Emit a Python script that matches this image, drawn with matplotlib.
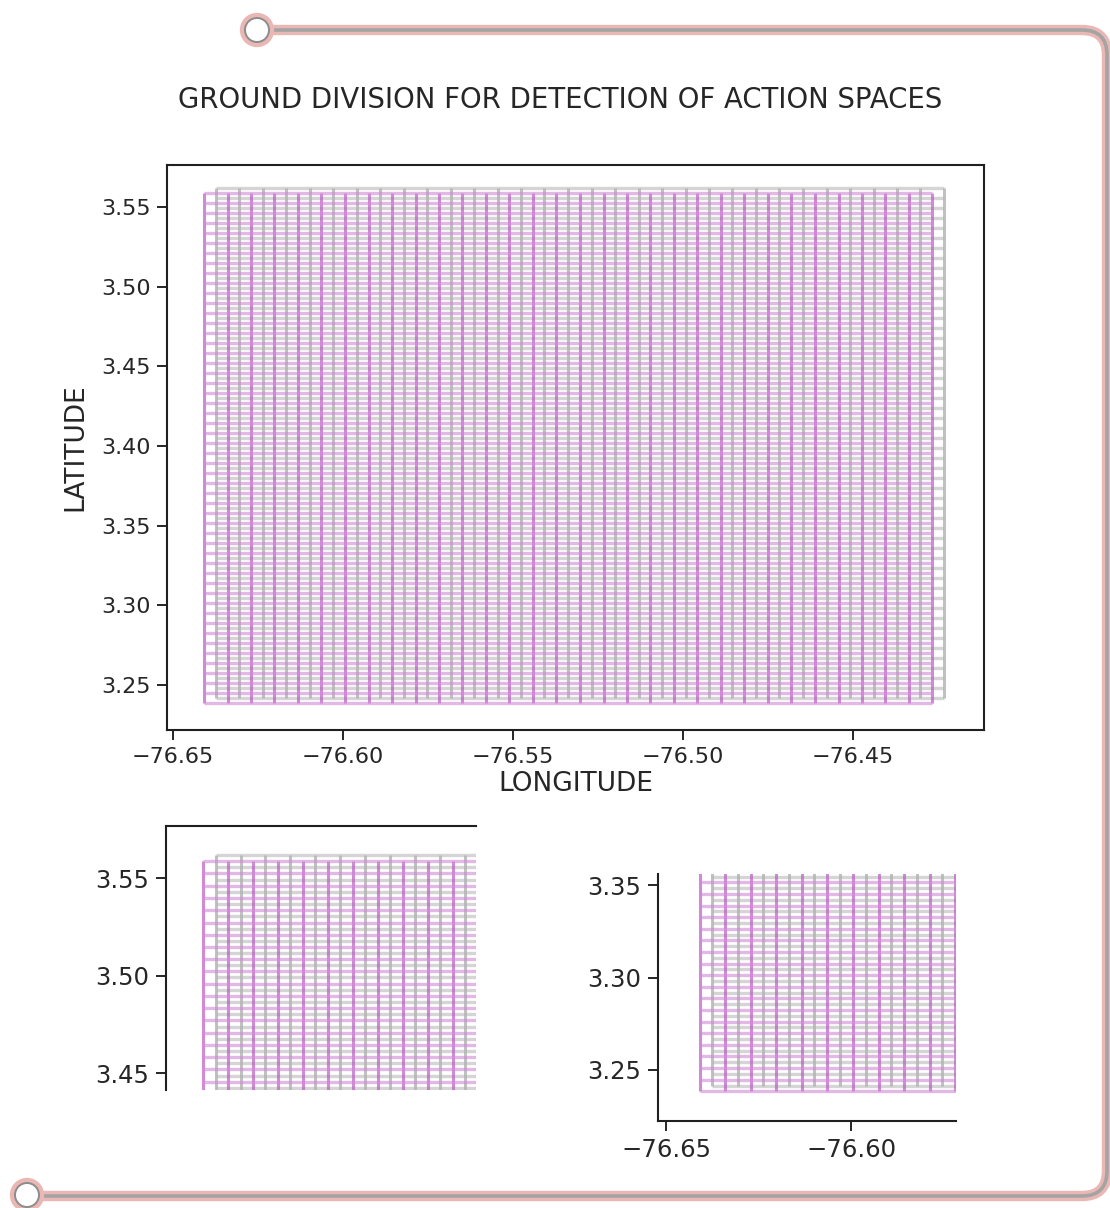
import matplotlib.pyplot as plt
from matplotlib.path import Path
from matplotlib.patches import PathPatch, Circle

# cell edges of the ground division (purple grid)
lon_edges = [-76.6409, -76.6340, -76.6271, -76.6202, -76.6133, -76.6064, -76.5994, -76.5925,
             -76.5856, -76.5787, -76.5718, -76.5649, -76.5580, -76.5511, -76.5442, -76.5373,
             -76.5303, -76.5234, -76.5165, -76.5096, -76.5027, -76.4958, -76.4889, -76.4820,
             -76.4751, -76.4682, -76.4612, -76.4543, -76.4474, -76.4405, -76.4336, -76.4267]
lat_edges = [3.2385, 3.2448, 3.2511, 3.2573, 3.2636, 3.2699, 3.2762, 3.2824, 3.2887, 3.2950,
             3.3013, 3.3075, 3.3138, 3.3201, 3.3264, 3.3327, 3.3389, 3.3452, 3.3515, 3.3578,
             3.3640, 3.3703, 3.3766, 3.3829, 3.3891, 3.3954, 3.4017, 3.4080, 3.4143, 3.4205,
             3.4268, 3.4331, 3.4394, 3.4456, 3.4519, 3.4582, 3.4645, 3.4707, 3.4770, 3.4833,
             3.4896, 3.4959, 3.5021, 3.5084, 3.5147, 3.5210, 3.5272, 3.5335, 3.5398, 3.5461,
             3.5524, 3.5586]
# second (gray) division is shifted half a cell
gray_shift_lon = 0.0034
gray_shift_lat = 0.0031

x_ticks = [-76.65, -76.60, -76.55, -76.50, -76.45]
y_ticks = [3.25, 3.30, 3.35, 3.40, 3.45, 3.50, 3.55]

TXT = '#262626'

def draw_grid(ax, lons, lats, cv, ch, av, ah):
    ax.vlines(lons, lats[0], lats[-1], colors=cv, alpha=av, lw=2.2)
    ax.hlines(lats, lons[0], lons[-1], colors=ch, alpha=ah, lw=2.4)

def draw_both(ax):
    glon = [v + gray_shift_lon for v in lon_edges]
    glat = [v + gray_shift_lat for v in lat_edges]
    draw_grid(ax, glon, glat, '#a0a0a0', '#b4b4b4', 0.65, 0.55)
    draw_grid(ax, lon_edges, lat_edges, '#bb5cc4', '#cf8ad6', 0.7, 0.6)

def style(ax, fs):
    ax.tick_params(labelsize=fs, length=7, width=1.4, pad=5, colors=TXT)
    for s in ax.spines.values():
        s.set_linewidth(1.5)
        s.set_color('#202020')

fig = plt.figure(figsize=(11.1, 12.08), dpi=100)

# decorative frame
bg = fig.add_axes([0, 0, 1, 1])
bg.set_xlim(0, 1110)
bg.set_ylim(1208, 0)
bg.axis('off')
verts = [(268, 30), (1082, 30), (1107, 30), (1107, 55), (1107, 1171), (1107, 1196),
         (1082, 1196), (40, 1196)]
codes = [Path.MOVETO, Path.LINETO, Path.CURVE3, Path.CURVE3, Path.LINETO, Path.CURVE3,
         Path.CURVE3, Path.LINETO]
frame = Path(verts, codes)
bg.add_patch(PathPatch(frame, fc='none', ec='#eab8b4', lw=7.5, capstyle='round'))
bg.add_patch(PathPatch(frame, fc='none', ec='#a4a4a4', lw=2.6))
for cx, cy in [(257, 30), (27, 1195)]:
    bg.add_patch(Circle((cx, cy), 13, fc='none', ec='#eab8b4', lw=6))
    bg.add_patch(Circle((cx, cy), 12, fc='white', ec='#8c8c8c', lw=1.4))

fig.text(0.505, 0.917, 'GROUND DIVISION FOR DETECTION OF ACTION SPACES',
         ha='center', va='center', fontsize=19.8, color=TXT)

# main view
ax = fig.add_axes([0.1505, 0.3957, 0.736, 0.4677])
draw_both(ax)
ax.set_xlim(-76.6518, -76.4115)
ax.set_ylim(3.2218, 3.5763)
ax.set_xticks(x_ticks)
ax.set_yticks(y_ticks)
ax.set_xticklabels(['−76.65', '−76.60', '−76.55', '−76.50', '−76.45'])
ax.set_yticklabels(['3.25', '3.30', '3.35', '3.40', '3.45', '3.50', '3.55'])
style(ax, 16)
ax.set_xlabel('LONGITUDE', fontsize=19, labelpad=3, color=TXT)
ax.set_ylabel('LATITUDE', fontsize=19, labelpad=9, color=TXT)

# zoom on the north-west corner
ax1 = fig.add_axes([0.1495, 0.0977, 0.2793, 0.2185])
draw_both(ax1)
ax1.set_xlim(-76.6513, -76.5653)
ax1.set_ylim(3.4413, 3.5767)
ax1.set_xticks([])
ax1.set_yticks([3.45, 3.50, 3.55])
ax1.set_yticklabels(['3.45', '3.50', '3.55'])
ax1.spines['right'].set_visible(False)
ax1.spines['bottom'].set_visible(False)
style(ax1, 17.5)

# zoom on the south-west corner
ax2 = fig.add_axes([0.5928, 0.0720, 0.2685, 0.2045])
draw_both(ax2)
ax2.set_xlim(-76.6522, -76.5716)
ax2.set_ylim(3.2224, 3.356)
ax2.set_xticks([-76.65, -76.60])
ax2.set_xticklabels(['−76.65', '−76.60'])
ax2.set_yticks([3.25, 3.30, 3.35])
ax2.set_yticklabels(['3.25', '3.30', '3.35'])
ax2.spines['right'].set_visible(False)
ax2.spines['top'].set_visible(False)
style(ax2, 17.5)

plt.savefig('out.png', dpi=100)
